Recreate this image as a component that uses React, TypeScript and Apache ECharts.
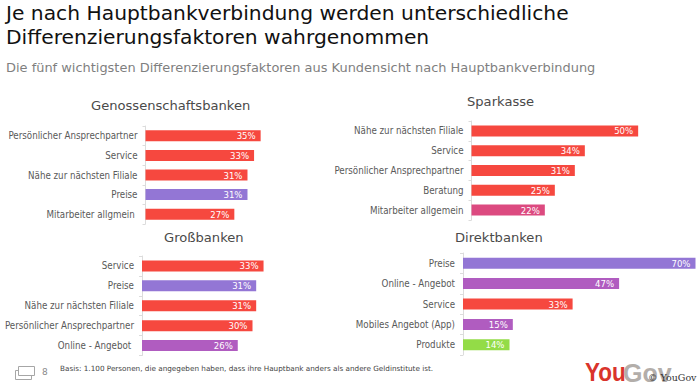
import React, { useEffect, useRef } from "react";
import * as echarts from "echarts";

const titleLines = ["Je nach Hauptbankverbindung werden unterschiedliche", "Differenzierungsfaktoren wahrgenommen"];
const subtitle = "Die fünf wichtigsten Differenzierungsfaktoren aus Kundensicht nach Hauptbankverbindung";
const footnote = "Basis: 1.100 Personen, die angegeben haben, dass ihre Hauptbank anders als andere Geldinstitute ist.";

const genoCats = ["Persönlicher Ansprechpartner", "Service", "Nähe zur nächsten Filiale", "Preise", "Mitarbeiter allgmein "];
const genoVals = [35, 33, 31, 31, 27];
const sparCats = ["Nähe zur nächsten Filiale", "Service", "Persönlicher Ansprechpartner", "Beratung", "Mitarbeiter allgemein"];
const sparVals = [50, 34, 31, 25, 22];
const grossCats = ["Service", "Preise", "Nähe zur nächsten Filiale", "Persönlicher Ansprechpartner", "Online - Angebot "];
const grossVals = [33, 31, 31, 30, 26];
const direktCats = ["Preise", "Online - Angebot", "Service", "Mobiles Angebot (App)", "Produkte"];
const direktVals = [70, 47, 33, 15, 14];

const RED = "#f6483f";
const catColor: Record<string, string> = {
  "Preise": "#9376d5",
  "Online - Angebot": "#b05cc0",
  "Mobiles Angebot (App)": "#b05cc0",
  "Produkte": "#93dc47",
  "Mitarbeiter allgemein": "#dc4a80",
};

const FONT = "DejaVu Sans";
const NARROW = "DejaVu Sans Condensed";

const panels = [
  { name: "Genossenschaftsbanken", cats: genoCats, vals: genoVals, left: 145.5, top: 126, w: 197.4, h: 98, max: 60, tx: 91, ty: 99 },
  { name: "Sparkasse", cats: sparCats, vals: sparVals, left: 471.5, top: 121, w: 200, h: 99, max: 60, tx: 467, ty: 95 },
  { name: "Großbanken", cats: grossCats, vals: grossVals, left: 142, top: 256, w: 221, h: 99.5, max: 60, tx: 164, ty: 231 },
  { name: "Direktbanken", cats: direktCats, vals: direktVals, left: 463, top: 253, w: 232.5, h: 102, max: 70, tx: 455, ty: 231 },
];

export default function App() {
  const ref = useRef<HTMLDivElement>(null);
  useEffect(() => {
    const chart = echarts.init(ref.current!, null, { renderer: "svg" });
    chart.setOption({
      animation: false,
      backgroundColor: "#fff",
      grid: panels.map((p) => ({ left: p.left, top: p.top, width: p.w, height: p.h, containLabel: false })),
      xAxis: panels.map((p, i) => ({ type: "value", gridIndex: i, min: 0, max: p.max, show: false })),
      yAxis: panels.map((p, i) => ({
        type: "category",
        gridIndex: i,
        inverse: true,
        data: p.cats,
        axisLine: { show: true, lineStyle: { color: "#dcdcdc", width: 1 } },
        axisTick: { show: true, length: 3, lineStyle: { color: "#dcdcdc" } },
        axisLabel: { color: "#595959", fontFamily: NARROW, fontSize: 9.7, margin: 8 },
      })),
      series: panels.map((p, i) => ({
        type: "bar",
        xAxisIndex: i,
        yAxisIndex: i,
        barWidth: 11,
        data: p.vals.map((v, j) => ({ value: v, itemStyle: { color: catColor[p.cats[j].trim()] || RED } })),
        label: {
          show: true,
          position: "insideRight",
          distance: 5,
          color: "#fff",
          fontFamily: NARROW,
          fontSize: 9.5,
          formatter: "{c}%",
        },
      })),
      graphic: [
        { type: "text", x: 6, y: 3, style: { text: titleLines[0], font: `20.25px '${FONT}'`, fill: "#111" } },
        { type: "text", x: 6, y: 27, style: { text: titleLines[1], font: `20.25px '${FONT}'`, fill: "#111" } },
        { type: "text", x: 6, y: 61, style: { text: subtitle, font: `12.95px '${FONT}'`, fill: "#7f7f7f" } },
        ...panels.map((p) => ({
          type: "text", x: p.tx, y: p.ty,
          style: { text: p.name, font: `13.1px '${FONT}'`, fill: "#4a4a4a" },
        })),
        { type: "rect", shape: { x: 15.5, y: 370.5, width: 16, height: 9 }, style: { fill: "#fff", stroke: "#a6a6a6", lineWidth: 1 } },
        { type: "rect", shape: { x: 18.5, y: 366.5, width: 16, height: 9 }, style: { fill: "#fff", stroke: "#a6a6a6", lineWidth: 1 } },
        { type: "text", x: 42, y: 367, style: { text: "8", font: `9px '${FONT}'`, fill: "#8a8a8a" } },
        { type: "text", x: 60, y: 365, style: { text: footnote, font: `7.25px '${FONT}'`, fill: "#444" } },
        { type: "text", x: 585, y: 360, scaleX: 0.9, style: { text: "You", font: `bold 25px 'Liberation Sans'`, fill: "#d9342b" } },
        { type: "text", x: 623, y: 360, style: { text: "Gov", font: `bold 25px 'Liberation Sans'`, fill: "#b3aeaa" } },
        { type: "text", x: 648, y: 372, style: { text: "© YouGov", font: `9.5px 'DejaVu Serif'`, fill: "#333" } },
      ],
    });
    return () => chart.dispose();
  }, []);
  return <div ref={ref} style={{ position: "fixed", left: 0, top: 0, width: 700, height: 386 }} />;
}
